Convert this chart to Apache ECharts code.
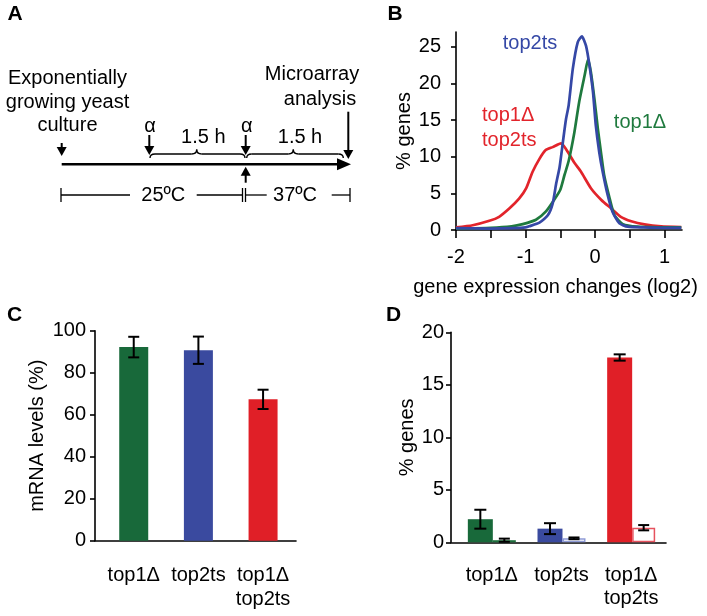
<!DOCTYPE html>
<html><head><meta charset="utf-8">
<script src="https://cdn.jsdelivr.net/npm/echarts@6/dist/echarts.min.js"></script>
<style>html,body{margin:0;padding:0;background:#fff}#c{width:707px;height:616px}</style>
</head><body><div id="c"></div>
<script>
// ---------------- data ----------------
const strains = ['top1Δ', 'top2ts', 'top1Δ\ntop2ts'];

// Panel B: distribution of gene expression changes (x = log2 change, y = % genes)
const curveDouble = [[-2.0,0.35],[-1.76,0.65],[-1.52,1.25],[-1.38,1.8],[-1.23,2.95],[-1.09,4.3],[-0.99,5.7],[-0.90,7.9],[-0.80,9.7],[-0.71,10.9],[-0.61,11.3],[-0.49,11.8],[-0.37,10.3],[-0.30,9.2],[-0.20,7.9],[-0.06,5.7],[0.09,4.1],[0.23,2.95],[0.37,1.8],[0.52,1.2],[0.71,0.77],[0.95,0.5],[1.24,0.4]];
const curveTop1 = [[-2.0,0.2],[-1.5,0.3],[-1.2,0.5],[-1.04,0.8],[-0.85,1.4],[-0.71,2.5],[-0.59,4.1],[-0.50,5.5],[-0.44,7.5],[-0.38,9.4],[-0.30,13.2],[-0.23,17.4],[-0.15,21.1],[-0.10,23.3],[-0.06,21.5],[-0.01,17.9],[0.04,13.8],[0.09,10.2],[0.13,7.5],[0.21,4.3],[0.28,2.0],[0.40,0.8],[0.61,0.45],[0.95,0.37],[1.24,0.35]];
const curveTop2 = [[-2.0,0.25],[-1.5,0.2],[-1.2,0.25],[-1.0,0.35],[-0.95,0.5],[-0.80,1.0],[-0.68,2.0],[-0.61,3.6],[-0.56,6.3],[-0.51,8.6],[-0.46,12.2],[-0.42,15.0],[-0.38,17.0],[-0.32,22.0],[-0.25,25.6],[-0.19,26.4],[-0.13,25.1],[-0.08,22.4],[-0.03,18.8],[0.01,14.3],[0.06,10.6],[0.11,7.9],[0.18,4.8],[0.25,2.5],[0.35,0.9],[0.47,0.45],[0.70,0.35],[1.0,0.3],[1.24,0.3]];
const xTicksB = [-2,-1.5,-1,-0.5,0,0.5,1];
const xLabelsB = [-2,-1,0,1];
const yTicksB = [0,5,10,15,20,25];

// Panel C: mRNA levels (%)
const mrnaLevels = [92.2, 90.7, 67.3];
const mrnaErr = [4.9, 6.5, 4.6];

// Panel D: % genes (solid bars / open bars)
const genesSolid = [2.2, 1.3, 17.6];
const genesSolidErr = [0.9, 0.52, 0.3];
const genesOpen = [0.2, 0.38, 1.39];
const genesOpenErr = [0.15, 0.08, 0.25];

// ---------------- styles ----------------
const FONT = '"Liberation Sans", Arial, Helvetica, sans-serif';
const strainColors = ['#18693a', '#3a4a9f', '#e01f27'];
const openBorder = ['#1d6e3c', '#8e9bd6', '#e6525e'];
const lineColors = {top1: '#1f7a3e', top2: '#3548a6', dbl: '#e2242b'};
const AX = {color: '#000', width: 1.6};
const txt = {color: '#000', fontSize: 20, fontFamily: FONT};

const chart = echarts.init(document.getElementById('c'), null, {renderer: 'canvas', width: 707, height: 616});

function lineOnlyX(gi) {
  return {type: 'value', gridIndex: gi, min: 0, max: 1, axisLine: {show: true, onZero: false, lineStyle: AX},
    axisTick: {show: false}, axisLabel: {show: false}, splitLine: {show: false}};
}
function hiddenAxis(gi, min, max) {
  return {type: 'value', gridIndex: gi, min, max, show: false, splitLine: {show: false}};
}
function errorSeries(xi, yi, vals, errs, offset, cap) {
  return {
    type: 'custom', xAxisIndex: xi, yAxisIndex: yi, z: 5, clip: false,
    data: vals.map((v, i) => [i, v - errs[i], v + errs[i]]),
    encode: {x: 0, y: [1, 2]},
    renderItem: (params, api) => {
      const c = api.value(0);
      const lo = api.coord([c, api.value(1)]);
      const hi = api.coord([c, api.value(2)]);
      const x = lo[0] + offset;
      const st = {stroke: '#000', lineWidth: 2};
      return {type: 'group', children: [
        {type: 'line', shape: {x1: x, y1: lo[1], x2: x, y2: hi[1]}, style: st},
        {type: 'line', shape: {x1: x - cap / 2, y1: lo[1], x2: x + cap / 2, y2: lo[1]}, style: st},
        {type: 'line', shape: {x1: x - cap / 2, y1: hi[1], x2: x + cap / 2, y2: hi[1]}, style: st}
      ]};
    }
  };
}

// ---------------- panel A schematic + texts ----------------
const G = [];
function T(x, y, s, o) {
  o = o || {};
  G.push({type: 'text', x, y, z: 10, style: {text: s, fill: o.fill || '#000',
    font: (o.bold ? 'bold ' : '') + (o.size || 20) + 'px ' + FONT,
    align: o.align || 'center', verticalAlign: 'middle'}});
}
function L(x1, y1, x2, y2, w) {
  G.push({type: 'line', z: 10, shape: {x1, y1, x2, y2}, style: {stroke: '#000', lineWidth: w || 1.3}});
}
function P(points) {
  G.push({type: 'polygon', z: 10, shape: {points}, style: {fill: '#000'}});
}
function Q(x1, y1, cx, cy, x2, y2) {
  G.push({type: 'bezierCurve', z: 10, shape: {x1, y1, x2, y2, cpx1: cx, cpy1: cy},
    style: {stroke: '#000', fill: null, lineWidth: 1.4}});
}
function arrowDown(x, top, tip) { L(x, top, x, tip - 6, 2); P([[x - 5, tip - 9], [x + 5, tip - 9], [x, tip]]); }
function arrowUp(x, bottom, tip) { L(x, bottom, x, tip + 6, 2); P([[x - 5, tip + 9], [x + 5, tip + 9], [x, tip]]); }
function brace(x1, x2, cx, yb) {
  Q(x1, yb + 4, x1, yb, x1 + 5, yb);
  L(x1 + 5, yb, cx - 5, yb, 1.4);
  Q(cx - 5, yb, cx, yb, cx, yb - 4.5);
  Q(cx, yb - 4.5, cx, yb, cx + 5, yb);
  L(cx + 5, yb, x2 - 5, yb, 1.4);
  Q(x2 - 5, yb, x2, yb, x2, yb + 4);
}

T(15, 14.5, 'A', {bold: true, size: 21});
T(395, 14.5, 'B', {bold: true, size: 21});
T(14.5, 315, 'C', {bold: true, size: 21});
T(393.5, 315.5, 'D', {bold: true, size: 21});

T(67.5, 78, 'Exponentially');
T(67.5, 102, 'growing yeast');
T(67.5, 125, 'culture');
T(312, 74, 'Microarray');
T(320, 99, 'analysis');
T(150, 126, 'α');
T(246.7, 126, 'α');
T(203.3, 137, '1.5 h');
T(300, 137, '1.5 h');
T(163.3, 195, '25ºC');
T(295, 195, '37ºC');

L(61.7, 164.3, 340, 164.3, 2.5);
P([[337, 158.3], [337, 170.3], [351, 164.3]]);
arrowDown(61.7, 143, 156);
arrowDown(149.3, 135, 155);
arrowDown(245.7, 135, 155);
arrowDown(348.3, 111.7, 159);
arrowUp(245.7, 182.7, 166.7);
brace(150, 245, 196.7, 154);
brace(246.7, 343.3, 293.3, 154);

L(61, 195, 130, 195); L(196.7, 195, 242.5, 195); L(245.5, 195, 266.7, 195); L(331.7, 195, 350, 195);
L(61, 188, 61, 202); L(242.5, 188, 242.5, 202); L(245.5, 188, 245.5, 202); L(350, 188, 350, 202);

// Panel B curve labels
T(530, 43, 'top2ts', {fill: lineColors.top2});
T(482, 115, 'top1Δ', {fill: lineColors.dbl, align: 'left'});
T(482, 140, 'top2ts', {fill: lineColors.dbl, align: 'left'});
T(640, 122, 'top1Δ', {fill: lineColors.top1});

// ---------------- option ----------------
const option = {
  animation: false,
  backgroundColor: '#fff',
  grid: [
    {left: 456, top: 32, width: 226, height: 198, outerBoundsMode: 'none'},        // B
    {left: 95, top: 330.7, width: 201, height: 210, outerBoundsMode: 'none'},      // C axes
    {left: 101.4, top: 330.7, width: 194, height: 210, outerBoundsMode: 'none'},   // C bars
    {left: 451, top: 332.3, width: 215, height: 210, outerBoundsMode: 'none'},     // D axes
    {left: 457, top: 332.3, width: 209, height: 210, outerBoundsMode: 'none'}      // D bars
  ],
  xAxis: [
    {type: 'value', gridIndex: 0, min: -2, max: 1.25, interval: 0.5,
      name: 'gene expression changes (log2)', nameLocation: 'middle', nameGap: 47,
      nameTextStyle: Object.assign({}, txt, {padding: [0, 27, 0, 0]}),
      axisLine: {show: true, onZero: false, lineStyle: AX},
      axisTick: {show: true, length: 8, lineStyle: AX, customValues: xTicksB},
      axisLabel: Object.assign({}, txt, {margin: 17, customValues: xLabelsB, formatter: v => String(v)}),
      splitLine: {show: false}},
    lineOnlyX(1),
    {type: 'category', gridIndex: 2, data: strains, axisLine: {show: false}, axisTick: {show: false},
      axisLabel: Object.assign({}, txt, {interval: 0, margin: 23, lineHeight: 24})},
    lineOnlyX(3),
    {type: 'category', gridIndex: 4, data: strains, axisLine: {show: false}, axisTick: {show: false},
      axisLabel: Object.assign({}, txt, {interval: 0, margin: 21, lineHeight: 23.5})}
  ],
  yAxis: [
    {type: 'value', gridIndex: 0, min: 0, max: 27, interval: 5,
      name: '% genes', nameLocation: 'middle', nameGap: 42, nameTextStyle: txt,
      axisLine: {show: true, onZero: false, lineStyle: AX},
      axisTick: {show: true, length: 5, lineStyle: AX, customValues: yTicksB},
      axisLabel: Object.assign({}, txt, {margin: 15, customValues: yTicksB}),
      splitLine: {show: false}},
    {type: 'value', gridIndex: 1, min: 0, max: 100, interval: 20,
      name: 'mRNA levels (%)', nameLocation: 'middle', nameGap: 48, nameTextStyle: txt,
      axisLine: {show: true, onZero: false, lineStyle: AX},
      axisTick: {show: true, length: 5, lineStyle: AX},
      axisLabel: Object.assign({}, txt, {margin: 9}),
      splitLine: {show: false}},
    hiddenAxis(2, 0, 100),
    {type: 'value', gridIndex: 3, min: 0, max: 20, interval: 5,
      name: '% genes', nameLocation: 'middle', nameGap: 31, nameTextStyle: txt,
      axisLine: {show: true, onZero: false, lineStyle: AX},
      axisTick: {show: true, length: 5, lineStyle: AX},
      axisLabel: Object.assign({}, txt, {margin: 7}),
      splitLine: {show: false}},
    hiddenAxis(4, 0, 20)
  ],
  series: [
    {type: 'line', name: 'top1Δ top2ts', xAxisIndex: 0, yAxisIndex: 0, data: curveDouble, showSymbol: false,
      smooth: 0.2, lineStyle: {color: lineColors.dbl, width: 2.7}, itemStyle: {color: lineColors.dbl}},
    {type: 'line', name: 'top1Δ', xAxisIndex: 0, yAxisIndex: 0, data: curveTop1, showSymbol: false,
      smooth: 0.2, lineStyle: {color: lineColors.top1, width: 2.7}, itemStyle: {color: lineColors.top1}},
    {type: 'line', name: 'top2ts', xAxisIndex: 0, yAxisIndex: 0, data: curveTop2, showSymbol: false,
      smooth: 0.2, lineStyle: {color: lineColors.top2, width: 2.7}, itemStyle: {color: lineColors.top2}},

    {type: 'bar', xAxisIndex: 2, yAxisIndex: 2, barWidth: 29,
      data: mrnaLevels.map((v, i) => ({value: v, itemStyle: {color: strainColors[i]}}))},
    errorSeries(2, 2, mrnaLevels, mrnaErr, 0, 11),

    {type: 'bar', xAxisIndex: 4, yAxisIndex: 4, barWidth: 25, barGap: '0%',
      data: genesSolid.map((v, i) => ({value: v, itemStyle: {color: strainColors[i]}}))},
    {type: 'bar', xAxisIndex: 4, yAxisIndex: 4, barWidth: 23, barGap: '0%',
      data: genesOpen.map((v, i) => ({value: v, itemStyle: {color: '#fff', borderColor: openBorder[i], borderWidth: 1.5}}))},
    errorSeries(4, 4, genesSolid, genesSolidErr, -11.5, 12),
    errorSeries(4, 4, genesOpen, genesOpenErr, 12.5, 11)
  ],
  graphic: {elements: G}
};
chart.setOption(option);
</script></body></html>
